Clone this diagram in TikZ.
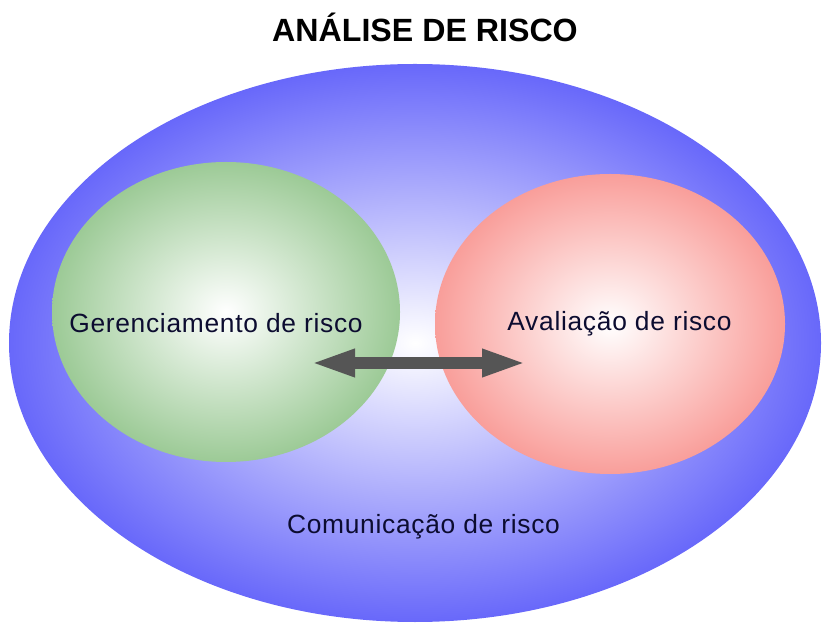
\documentclass[tikz,border=0pt]{standalone}
\usepackage{fontspec}
\setmainfont{Liberation Sans}
\newfontfamily\spacedsans[LetterSpace=2.7]{Liberation Sans}
\usetikzlibrary{shapes.geometric,arrows.meta}

\definecolor{riskblue}{RGB}{104,104,250}
\definecolor{riskgreen}{RGB}{156,202,150}
\definecolor{riskred}{RGB}{249,158,154}
\definecolor{arrowgray}{RGB}{85,85,85}
\definecolor{labelnavy}{RGB}{12,12,48}

\tikzset{
  blob/.style={ellipse, inner sep=0pt, draw=none, shading=radial, inner color=white},
  label/.style={text=labelnavy, font=\spacedsans\fontsize{15}{18}\selectfont},
  fatarrow/.style={arrowgray, line width=0.24cm,
    {Triangle[length=0.9cm,width=0.5cm]}-{Triangle[length=0.9cm,width=0.5cm]}}
}

\begin{document}
\begin{tikzpicture}
\useasboundingbox (0,0) rectangle (16.46,12.5);

% title
\node[font=\bfseries\fontsize{18.3}{22}\selectfont] (title) at (8.5,11.96) {ANÁLISE DE RISCO};

% outer and inner areas
\node[blob, outer color=riskblue, minimum width=16.24cm, minimum height=11.16cm] (comm) at (8.30,5.64) {};
\node[blob, outer color=riskgreen, minimum width=6.96cm, minimum height=6.0cm] (mgmt) at (4.52,6.26) {};
\node[blob, outer color=riskred, minimum width=7.0cm, minimum height=6.0cm] (eval) at (12.2,6.02) {};

% arrow between the two
\coordinate (arrL) at (6.2,5.24);
\coordinate (arrR) at (10.54,5.24);
\draw[fatarrow] (arrL) -- (arrR);

% labels
\node[label] (mgmtlbl) at (4.32,6.04) {Gerenciamento de risco};
\node[label] (evallbl) at (12.39,6.02) {Avaliação de risco};
\node[label] (commlbl) at (8.47,1.96) {Comunicação de risco};

\end{tikzpicture}
\end{document}
